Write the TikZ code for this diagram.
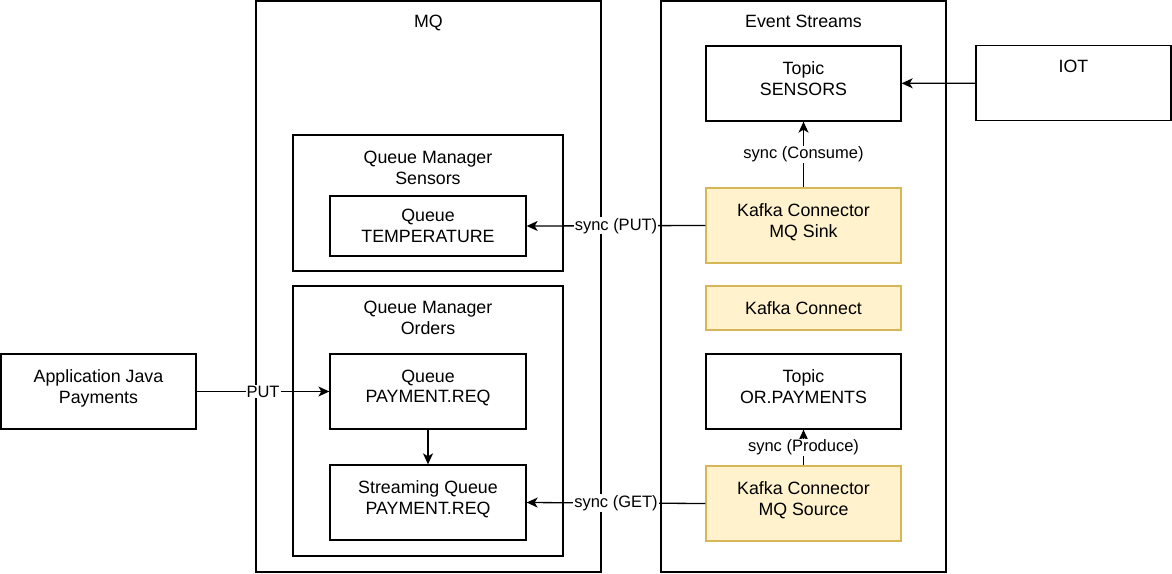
\documentclass[tikz,border=0pt]{standalone}
\usepackage{fontspec}
\setmainfont{Liberation Sans}
\usetikzlibrary{arrows.meta}
\definecolor{connfill}{HTML}{FFF2CC}
\definecolor{conndraw}{HTML}{D6B656}

\begin{document}
\begin{tikzpicture}[
        x=1pt, y=-1pt,
        every node/.style={font=\fontsize{17.8}{20.5}\selectfont, align=center},
        frame/.style={draw, line width=1.3pt, inner sep=0pt},
        box/.style={draw, line width=1.3pt, inner sep=0pt, minimum width=195pt, minimum height=75pt},
        lift/.style={text depth=10pt},
        conn/.style={box, fill=connfill, draw=conndraw},
        title/.style={anchor=north, inner sep=0pt},
        lbl/.style={fill=white, inner sep=1pt, midway, font=\fontsize{16.5}{19}\selectfont},
        flow/.style={line width=1.3pt, -{Stealth[length=11pt, width=10pt, inset=3pt]}}
    ]
        \useasboundingbox (0,0) rectangle (1172,573);

        % Rahmen
        \node[frame, minimum width=345pt, minimum height=571pt] (mq) at (428.5,286.5) {};
        \node[title] (mqT) at (428.5,15) {MQ};
        \node[frame, minimum width=285pt, minimum height=571pt] (es) at (803.5,286.5) {};
        \node[title] (esT) at (803.5,15) {Event Streams};
        \node[frame, minimum width=270pt, minimum height=136pt] (qmS) at (428,203) {};
        \node[title] (qmST) at (428,151) {Queue Manager\\Sensors};
        \node[frame, minimum width=270pt, minimum height=270pt] (qmO) at (428,421) {};
        \node[title] (qmOT) at (428,301) {Queue Manager\\Orders};

        % Knoten
        \node[box, minimum width=196pt, minimum height=60pt] (qTemp) at (428,226) {Queue\\TEMPERATURE};
        \node[box, lift, minimum width=196pt] (qPay) at (428,391.5) {Queue\\PAYMENT.REQ};
        \node[box, lift, minimum width=196pt] (qStream) at (428,502.5) {Streaming Queue\\PAYMENT.REQ};
        \node[box, lift] (app) at (98.5,391.5) {Application Java\\Payments};
        \node[box, lift] (tSens) at (803.5,83.5) {Topic\\SENSORS};
        \node[box] (iot) at (1073.5,83) {};
        \node[title] (iotT) at (1073.5,60) {IOT};
        \node[conn, lift] (sink) at (803.5,225.5) {Kafka Connector\\MQ Sink};
        \node[conn, minimum height=44pt] (kc) at (803.5,308) {Kafka Connect};
        \node[box, lift] (tPay) at (803.5,391.5) {Topic\\OR.PAYMENTS};
        \node[conn, lift] (src) at (803.5,503.5) {Kafka Connector\\MQ Source};

        % Verbindungen
        \draw[flow] (iot) -- (tSens);
        \draw[flow] (sink) -- node[lbl] {sync (Consume)} (tSens);
        \draw[flow] (sink.west) -- node[lbl] {sync (PUT)} (qTemp.east);
        \draw[flow] (app) -- node[lbl] {PUT} (qPay);
        \draw[flow] (qPay) -- (qStream);
        \draw[flow] (src) -- node[lbl] {sync (Produce)} (tPay);
        \draw[flow] (src.west) -- node[lbl] {sync (GET)} (qStream.east);
    \end{tikzpicture}
\end{document}
